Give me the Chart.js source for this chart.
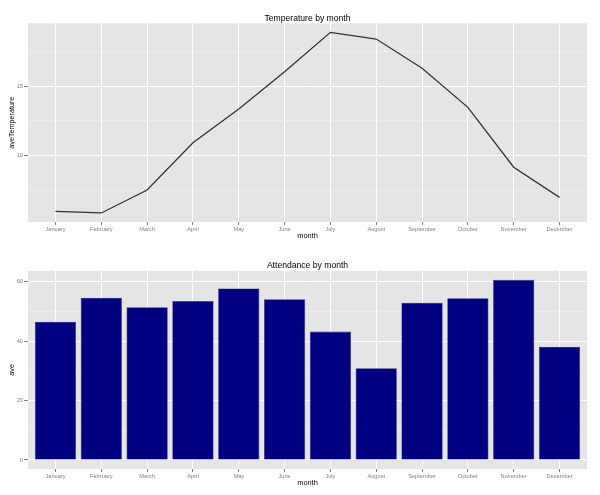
<!DOCTYPE html>
<html>
<head>
<meta charset="utf-8">
<script src="https://cdn.jsdelivr.net/npm/chart.js@4"></script>
<style>
  html, body { margin: 0; padding: 0; background: #ffffff; }
  #wrap { position: relative; width: 600px; height: 495px; }
  canvas { position: absolute; left: 0; }
  #c1 { top: 0; }
  #c2 { top: 247px; }
</style>
</head>
<body>
<div id="wrap">
  <canvas id="c1" width="600" height="247"></canvas>
  <canvas id="c2" width="600" height="247"></canvas>
</div>
<script>
// ---- data ----
const months = ['January', 'February', 'March', 'April', 'May', 'June', 'July', 'August', 'September', 'October', 'November', 'December'];
const aveTemperature = [6.01, 5.89, 7.54, 10.93, 13.35, 16.03, 18.85, 18.37, 16.27, 13.47, 9.17, 7.01];
const aveAttendance = [46.5, 54.6, 51.4, 53.5, 57.7, 54.1, 43.2, 30.9, 52.9, 54.4, 60.6, 38.1];
const tempMajorTicks = [10, 15];
const tempMinorTicks = [7.5, 12.5, 17.5];
const attMajorTicks = [0, 20, 40, 60];
const attMinorTicks = [10, 30, 50];

// ---- styling ----
const FONT = 'Liberation Sans, Arial, Helvetica, sans-serif';
Chart.defaults.font.family = FONT;
Chart.defaults.devicePixelRatio = 1;

const panelBg = {
  id: 'panelBg',
  beforeDraw(chart) {
    const { ctx, chartArea: a } = chart;
    ctx.save();
    ctx.fillStyle = '#E5E5E5';
    ctx.fillRect(a.left, a.top, a.right - a.left, a.bottom - a.top);
    ctx.restore();
  }
};

function expand(values, includeZero) {
  let lo = Math.min(...values), hi = Math.max(...values);
  if (includeZero) lo = Math.min(lo, 0);
  const pad = (hi - lo) * 0.05;
  return { min: lo - pad, max: hi + pad };
}

function xScale() {
  return {
    type: 'linear',
    min: -0.6,
    max: months.length - 1 + 0.6,
    offset: false,
    afterBuildTicks: s => { s.ticks = months.map((m, i) => ({ value: i })); },
    afterFit: s => { s.height = 25; },
    ticks: {
      callback: v => months[v],
      font: { size: 5.7 },
      color: '#7F7F7F',
      padding: 1,
      maxRotation: 0,
      autoSkip: false
    },
    grid: { offset: false, color: '#FFFFFF', lineWidth: 1, tickColor: '#7F7F7F', tickLength: 3 },
    border: { display: false },
    title: { display: true, text: 'month', font: { size: 7.4 }, color: '#000000', padding: { top: 0, bottom: 6.5 } }
  };
}

function yScale(lim, major, minor, label) {
  const isMajor = ctx => ctx.tick && major.includes(ctx.tick.value);
  return {
    min: lim.min,
    max: lim.max,
    afterBuildTicks: s => {
      s.ticks = [...major, ...minor].sort((a, b) => a - b).map(v => ({ value: v }));
    },
    afterFit: s => { s.width = 28; },
    ticks: {
      callback: v => major.includes(v) ? String(v) : '',
      font: { size: 5.7 },
      color: '#7F7F7F',
      padding: 1,
      autoSkip: false
    },
    grid: {
      color: ctx => isMajor(ctx) ? '#FFFFFF' : '#F2F2F2',
      lineWidth: ctx => isMajor(ctx) ? 1 : 0.6,
      tickColor: ctx => isMajor(ctx) ? '#7F7F7F' : 'rgba(0,0,0,0)',
      tickLength: 4
    },
    border: { display: false },
    title: { display: true, text: label, font: { size: 7.2 }, color: '#000000', padding: { top: 8, bottom: 0 } }
  };
}

function titleOpts(text, padTop) {
  return {
    display: true,
    text: text,
    font: { size: 8.6, weight: 'normal' },
    color: '#000000',
    padding: { top: padTop, bottom: 0 },
    fullSize: false
  };
}

// ---- top chart: temperature line ----
new Chart(document.getElementById('c1'), {
  type: 'line',
  data: {
    datasets: [{
      data: aveTemperature.map((v, i) => ({ x: i, y: v })),
      borderColor: '#333333',
      borderWidth: 1.3,
      pointRadius: 0,
      tension: 0,
      fill: false
    }]
  },
  options: {
    responsive: false,
    animation: false,
    layout: { padding: { left: 0, right: 13, top: 0, bottom: 0 } },
    plugins: {
      legend: { display: false },
      tooltip: { enabled: false },
      title: titleOpts('Temperature by month', 13)
    },
    scales: {
      x: xScale(),
      y: yScale(expand(aveTemperature, false), tempMajorTicks, tempMinorTicks, 'aveTemperature')
    }
  },
  plugins: [panelBg]
});

// ---- bottom chart: attendance bars ----
new Chart(document.getElementById('c2'), {
  type: 'bar',
  data: {
    datasets: [{
      data: aveAttendance.map((v, i) => ({ x: i, y: v })),
      backgroundColor: '#000080',
      borderColor: '#2a2a8c',
      borderWidth: 0.6,
      categoryPercentage: 1,
      barPercentage: 0.9
    }]
  },
  options: {
    responsive: false,
    animation: false,
    layout: { padding: { left: 0, right: 13, top: 0, bottom: 0 } },
    plugins: {
      legend: { display: false },
      tooltip: { enabled: false },
      title: titleOpts('Attendance by month', 13.5)
    },
    scales: {
      x: xScale(),
      y: yScale(expand(aveAttendance, true), attMajorTicks, attMinorTicks, 'ave')
    }
  },
  plugins: [panelBg]
});
</script>
</body>
</html>
